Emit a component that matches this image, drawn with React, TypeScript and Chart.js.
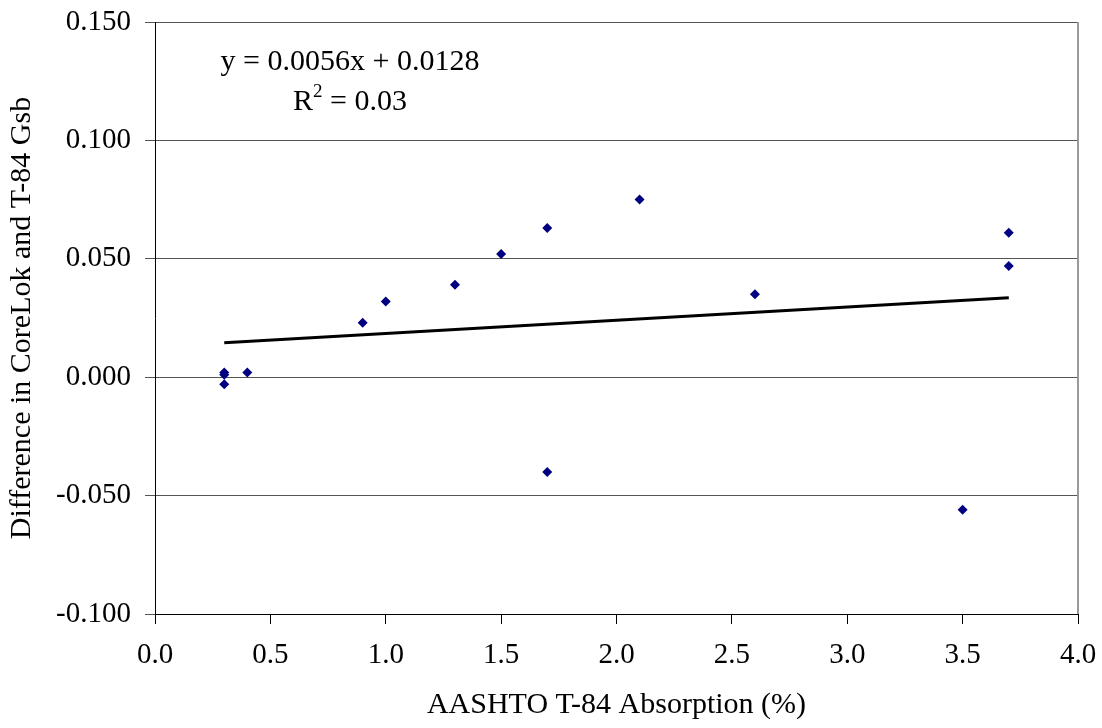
import React, { useEffect, useRef } from "react";
import { Chart, registerables } from "chart.js";

Chart.register(...registerables);

const xValues = [0.3, 0.3, 0.3, 0.4, 0.9, 1.0, 1.3, 1.5, 1.7, 1.7, 2.1, 2.6, 3.5, 3.7, 3.7];
const yValues = [0.002, 0.001, -0.003, 0.002, 0.023, 0.032, 0.039, 0.052, 0.063, -0.040, 0.075, 0.035, -0.056, 0.061, 0.047];
const trendX = [0.3, 3.7];
const trendY = [0.0145, 0.0335];
const equationText = "y = 0.0056x + 0.0128";
const r2Text = "= 0.03";
const xTitle = "AASHTO T-84 Absorption (%)";
const yTitle = "Difference in CoreLok and T-84 Gsb";

const FONT = '"Liberation Serif", "Times New Roman", serif';

const annotationPlugin = {
  id: "annot",
  afterDraw(chart: any) {
    const ctx = chart.ctx;
    const area = chart.chartArea;
    ctx.save();
    ctx.fillStyle = "#000";
    ctx.textBaseline = "alphabetic";
    ctx.font = `30px ${FONT}`;
    const cx = 350;
    const w1 = ctx.measureText(equationText).width;
    ctx.fillText(equationText, cx - w1 / 2, 70);
    // R² line
    const wR = ctx.measureText("R").width;
    ctx.font = `19px ${FONT}`;
    const w2 = ctx.measureText("2").width;
    ctx.font = `30px ${FONT}`;
    const wRest = ctx.measureText(" " + r2Text).width;
    const total = wR + w2 + wRest;
    let x = cx - total / 2;
    ctx.fillText("R", x, 110);
    x += wR;
    ctx.font = `19px ${FONT}`;
    ctx.fillText("2", x, 97);
    x += w2;
    ctx.font = `30px ${FONT}`;
    ctx.fillText(" " + r2Text, x, 110);
    // right border of plot area
    ctx.strokeStyle = "#999";
    ctx.lineWidth = 2;
    ctx.beginPath();
    ctx.moveTo(area.right, area.top);
    ctx.lineTo(area.right, area.bottom);
    ctx.stroke();
    ctx.restore();
  },
};

export default function App() {
  const ref = useRef<HTMLCanvasElement | null>(null);
  useEffect(() => {
    document.body.style.margin = "0";
    const canvas = ref.current;
    if (!canvas) return;
    const chart = new Chart(canvas, {
      type: "scatter",
      data: {
        datasets: [
          {
            type: "line",
            data: trendX.map((x, i) => ({ x, y: trendY[i] })),
            borderColor: "#000",
            borderWidth: 3,
            pointRadius: 0,
            fill: false,
          },
          {
            data: xValues.map((x, i) => ({ x, y: yValues[i] })),
            pointStyle: "rectRot",
            pointRadius: 5,
            backgroundColor: "#000080",
            borderColor: "#000080",
            borderWidth: 0,
          },
        ],
      },
      options: {
        animation: false,
        responsive: false,
        layout: { padding: { left: 0, right: 24, top: 22, bottom: 0 } },
        plugins: { legend: { display: false }, tooltip: { enabled: false } },
        scales: {
          x: {
            type: "linear",
            min: 0,
            max: 4,
            ticks: {
              stepSize: 0.5,
              color: "#000",
              font: { family: FONT, size: 29 },
              padding: 14,
              maxRotation: 0,
              callback: (v: any) => Number(v).toFixed(1),
            },
            grid: { drawOnChartArea: false, color: "#000", tickLength: 10 },
            border: { color: "#000", width: 1 },
            title: {
              display: true,
              text: xTitle,
              color: "#000",
              font: { family: FONT, size: 30 },
              padding: { top: 0, bottom: 5 },
            },
            afterFit: (s: any) => {
              s.height = 114;
              s.paddingLeft = 0;
              s.paddingRight = 0;
            },
          },
          y: {
            type: "linear",
            min: -0.1,
            max: 0.15,
            ticks: {
              stepSize: 0.05,
              color: "#000",
              font: { family: FONT, size: 29 },
              padding: 14,
              callback: (v: any) => Number(v).toFixed(3),
            },
            grid: { color: "#555", tickLength: 10 },
            border: { color: "#000", width: 1 },
            title: {
              display: true,
              text: yTitle,
              color: "#000",
              font: { family: FONT, size: 30 },
              padding: { top: 4, bottom: 0 },
            },
            afterFit: (s: any) => {
              s.width = 155;
              s.paddingTop = 0;
              s.paddingBottom = 0;
            },
          },
        },
      },
      plugins: [annotationPlugin],
    });
    return () => chart.destroy();
  }, []);
  return (
    <div style={{ position: "absolute", left: 0, top: 0, width: 1102, height: 728 }}>
      <canvas ref={ref} width={1102} height={728} style={{ width: 1102, height: 728 }} />
    </div>
  );
}
